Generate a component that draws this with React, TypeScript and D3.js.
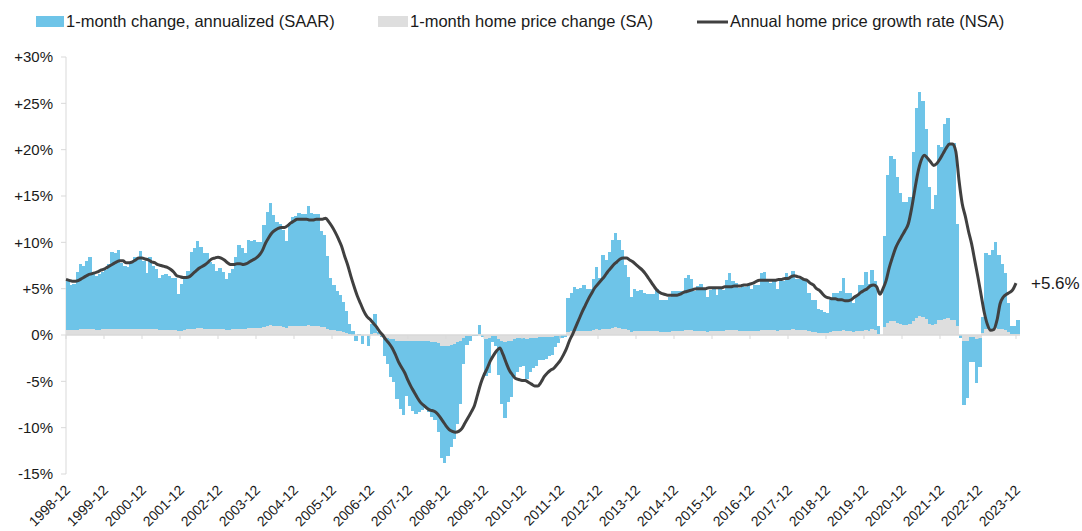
import * as d3 from "d3";
import * as React from "react";

// one tick per year, every December
const tickLabels = [
  "1998-12", "1999-12", "2000-12", "2001-12", "2002-12", "2003-12", "2004-12",
  "2005-12", "2006-12", "2007-12", "2008-12", "2009-12", "2010-12", "2011-12",
  "2012-12", "2013-12", "2014-12", "2015-12", "2016-12", "2017-12", "2018-12",
  "2019-12", "2020-12", "2021-12", "2022-12", "2023-12",
];

// 1-month change, annualized (SAAR), %, monthly from 1998-12
const saar = [
  5.8,
  5.4, 5.5, 6.8, 7.7, 7.4, 8.0, 8.4, 6.8, 6.4, 6.6, 6.8, 7.0, // 1999
  7.7, 9.0, 8.8, 9.2, 7.8, 7.4, 7.3, 7.8, 8.4, 8.4, 9.1, 8.0, // 2000
  6.7, 8.4, 7.4, 7.1, 6.2, 6.5, 6.6, 6.4, 6.2, 6.2, 4.4, 5.5, // 2001
  6.2, 6.9, 9.0, 9.4, 10.1, 9.5, 8.8, 8.8, 7.9, 7.7, 6.9, 7.2, // 2002
  6.8, 6.0, 6.7, 7.1, 8.4, 9.7, 9.4, 8.9, 10.2, 10.1, 10.3, 10.0, // 2003
  10.0, 11.9, 13.3, 14.2, 13.0, 12.2, 12.0, 11.3, 10.1, 12.1, 12.7, 12.8, // 2004
  13.2, 13.1, 13.1, 13.9, 13.2, 13.1, 13.1, 11.2, 10.8, 8.5, 6.2, 5.4, // 2005
  4.8, 4.3, 3.6, 2.6, 1.2, 0.4, -0.7, 0.1, -1.0, 0.0, -1.2, 1.2, // 2006
  2.3, 0.3, -0.2, -2.3, -3.1, -4.5, -5.1, -6.9, -8.0, -8.6, -6.6, -7.7, // 2007
  -8.2, -8.5, -8.3, -8.1, -7.9, -8.3, -8.8, -9.2, -10.5, -13.3, -13.8, -13.1, // 2008
  -12.1, -11.2, -9.6, -7.4, -3.1, -1.1, -0.7, -0.1, -0.1, 1.1, -0.2, -4.4, // 2009
  -4.1, -0.8, -1.2, -4.3, -7.4, -9.0, -7.2, -6.7, -4.4, -4.0, -3.4, -3.3, // 2010
  -4.7, -4.0, -3.6, -3.3, -2.7, -2.7, -2.6, -2.3, -2.2, -1.3, -0.9, -0.3, // 2011
  -0.2, 4.0, 4.5, 5.2, 5.0, 5.1, 5.4, 5.0, 5.0, 6.0, 7.3, 6.1, // 2012
  8.6, 8.1, 9.0, 10.3, 11.0, 10.3, 9.2, 7.6, 6.3, 4.1, 5.0, 4.7, // 2013
  4.9, 4.5, 4.4, 4.4, 4.4, 5.0, 3.8, 3.8, 3.8, 4.1, 4.7, 4.7, // 2014
  4.7, 4.7, 6.1, 6.5, 6.0, 4.8, 5.3, 5.5, 4.9, 4.1, 4.9, 5.0, // 2015
  4.3, 5.0, 4.9, 5.9, 6.7, 5.8, 5.6, 5.1, 5.3, 5.2, 5.5, 5.0, // 2016
  5.4, 5.4, 6.7, 6.8, 6.0, 5.6, 6.0, 5.0, 5.8, 5.8, 6.7, 6.3, // 2017
  6.9, 6.0, 6.0, 6.0, 6.0, 4.5, 3.8, 3.8, 2.8, 2.7, 2.5, 2.4, // 2018
  3.8, 4.5, 4.5, 4.7, 6.1, 4.5, 4.5, 3.5, 4.3, 5.4, 5.4, 6.8, // 2019
  5.5, 7.0, 5.8, 1.0, 0.0, 10.7, 17.3, 19.3, 19.0, 17.1, 15.3, 14.4, // 2020
  14.4, 14.9, 19.8, 24.5, 26.2, 25.2, 22.2, 16.0, 13.6, 15.1, 20.5, 20.3, // 2021
  22.8, 23.4, 20.7, 20.7, 12.0, -0.3, -7.6, -6.8, -2.9, -2.9, -5.2, -3.4, // 2022
  1.9, 8.8, 8.6, 9.2, 10.0, 8.6, 7.7, 6.7, 3.5, 1.0, 1.0, 1.6, // 2023
];

// 1-month home price change (SA), %
const sa = [
  0.5,
  0.5, 0.5, 0.5, 0.6, 0.6, 0.6, 0.6, 0.6, 0.5, 0.5, 0.6, 0.6,
  0.6, 0.7, 0.7, 0.7, 0.6, 0.6, 0.6, 0.6, 0.7, 0.7, 0.7, 0.6,
  0.6, 0.6, 0.6, 0.6, 0.5, 0.5, 0.5, 0.5, 0.5, 0.5, 0.4, 0.4,
  0.5, 0.6, 0.7, 0.7, 0.8, 0.8, 0.7, 0.7, 0.6, 0.6, 0.6, 0.6,
  0.6, 0.5, 0.5, 0.6, 0.7, 0.7, 0.7, 0.7, 0.8, 0.8, 0.8, 0.8,
  0.8, 0.9, 1.0, 1.1, 1.0, 1.0, 1.0, 0.9, 0.8, 1.0, 1.0, 1.0,
  1.0, 1.0, 1.0, 1.1, 1.0, 1.0, 1.0, 0.9, 0.9, 0.7, 0.5, 0.5,
  0.4, 0.4, 0.3, 0.2, 0.1, 0.0, -0.1, 0.0, -0.1, 0.0, -0.1, 0.1,
  0.2, 0.0, 0.0, -0.2, -0.3, -0.4, -0.4, -0.6, -0.7, -0.7, -0.6, -0.6,
  -0.7, -0.7, -0.7, -0.7, -0.7, -0.7, -0.8, -0.8, -0.9, -1.2, -1.2, -1.2,
  -1.1, -1.0, -0.8, -0.6, -0.3, -0.1, -0.1, 0.0, 0.0, 0.1, 0.0, -0.4,
  -0.3, -0.1, -0.1, -0.4, -0.6, -0.8, -0.6, -0.6, -0.4, -0.3, -0.3, -0.3,
  -0.4, -0.3, -0.3, -0.3, -0.2, -0.2, -0.2, -0.2, -0.2, -0.1, -0.1, 0.0,
  0.0, 0.3, 0.4, 0.4, 0.4, 0.4, 0.4, 0.4, 0.4, 0.5, 0.6, 0.5,
  0.7, 0.7, 0.7, 0.8, 0.9, 0.8, 0.7, 0.6, 0.5, 0.3, 0.4, 0.4,
  0.4, 0.4, 0.4, 0.4, 0.4, 0.4, 0.3, 0.3, 0.3, 0.3, 0.4, 0.4,
  0.4, 0.4, 0.5, 0.5, 0.5, 0.4, 0.4, 0.4, 0.4, 0.3, 0.4, 0.4,
  0.4, 0.4, 0.4, 0.5, 0.5, 0.5, 0.5, 0.4, 0.4, 0.4, 0.4, 0.4,
  0.4, 0.4, 0.5, 0.5, 0.5, 0.5, 0.5, 0.4, 0.5, 0.5, 0.5, 0.5,
  0.6, 0.5, 0.5, 0.5, 0.5, 0.4, 0.3, 0.3, 0.2, 0.2, 0.2, 0.2,
  0.3, 0.4, 0.4, 0.4, 0.5, 0.4, 0.4, 0.3, 0.4, 0.4, 0.4, 0.5,
  0.4, 0.6, 0.5, 0.1, 0.0, 0.9, 1.3, 1.5, 1.5, 1.3, 1.2, 1.1,
  1.1, 1.2, 1.5, 1.8, 2.0, 1.9, 1.7, 1.2, 1.1, 1.2, 1.6, 1.6,
  1.7, 1.8, 1.6, 1.6, 1.0, 0.0, -0.6, -0.6, -0.2, -0.2, -0.4, -0.3,
  0.2, 0.7, 0.7, 0.7, 0.8, 0.7, 0.6, 0.5, 0.3, 0.1, 0.1, 0.1,
];

// Annual home price growth rate (NSA), %
const nsa = [
  6.0,
  5.9, 5.8, 5.8, 5.9, 6.1, 6.3, 6.5, 6.6, 6.7, 6.8, 7.0, 7.1,
  7.3, 7.5, 7.7, 7.9, 8.0, 8.0, 7.8, 7.8, 7.9, 8.1, 8.3, 8.3,
  8.2, 8.1, 7.9, 7.8, 7.6, 7.5, 7.4, 7.3, 7.1, 6.8, 6.4, 6.3,
  6.2, 6.2, 6.3, 6.6, 6.9, 7.2, 7.4, 7.6, 7.9, 8.2, 8.3, 8.4,
  8.3, 8.1, 7.8, 7.6, 7.6, 7.7, 7.7, 7.6, 7.7, 7.9, 8.1, 8.3,
  8.6, 9.1, 9.9, 10.5, 11.0, 11.3, 11.5, 11.6, 11.6, 11.8, 12.1, 12.3,
  12.5, 12.5, 12.5, 12.5, 12.4, 12.4, 12.5, 12.5, 12.5, 12.6, 12.2, 11.7,
  11.1, 10.4, 9.6, 8.5, 7.5, 6.3, 5.2, 4.2, 3.4, 2.6, 2.0, 1.7,
  1.3, 0.9, 0.4, 0.0, -0.5, -0.9, -1.4, -2.1, -2.9, -3.5, -4.1, -4.9,
  -5.6, -6.2, -6.8, -7.3, -7.6, -7.9, -8.1, -8.2, -8.4, -8.8, -9.3, -9.8,
  -10.2, -10.4, -10.5, -10.4, -10.1, -9.5, -8.9, -8.3, -7.6, -6.4, -5.2, -4.3,
  -3.6, -2.8, -2.2, -1.7, -1.4, -2.1, -3.0, -3.8, -4.3, -4.7, -4.8, -4.9,
  -4.9, -5.1, -5.3, -5.5, -5.5, -5.1, -4.5, -4.1, -3.8, -3.6, -3.2, -2.8,
  -2.2, -1.5, -0.6, 0.1, 0.9, 1.7, 2.5, 3.2, 3.9, 4.5, 5.1, 5.5,
  5.9, 6.3, 6.8, 7.2, 7.6, 7.9, 8.2, 8.3, 8.3, 8.1, 7.9, 7.6,
  7.3, 7.0, 6.6, 6.1, 5.6, 5.1, 4.7, 4.5, 4.4, 4.3, 4.3, 4.3,
  4.3, 4.4, 4.6, 4.7, 4.8, 4.9, 5.0, 5.0, 5.0, 5.0, 5.1, 5.1,
  5.1, 5.1, 5.1, 5.2, 5.2, 5.2, 5.3, 5.3, 5.3, 5.4, 5.4, 5.5,
  5.6, 5.8, 5.9, 5.9, 5.9, 5.9, 5.9, 5.9, 6.0, 6.0, 6.1, 6.1,
  6.3, 6.4, 6.3, 6.2, 6.0, 5.9, 5.6, 5.4, 5.0, 4.8, 4.4, 4.1,
  4.0, 3.9, 3.9, 3.8, 3.8, 3.7, 3.7, 3.8, 4.1, 4.3, 4.6, 4.8,
  5.0, 5.3, 5.4, 5.2, 4.4, 5.0, 5.9, 7.3, 8.4, 9.4, 10.1, 10.7,
  11.3, 12.0, 13.6, 15.6, 17.5, 18.8, 19.4, 19.1, 18.7, 18.3, 18.5, 19.0,
  19.6, 20.2, 20.6, 20.6, 19.8, 16.7, 14.2, 12.8, 11.2, 9.8, 8.0, 6.2,
  4.3, 2.4, 1.1, 0.5, 0.6, 1.6, 3.4, 4.1, 4.4, 4.6, 4.9, 5.6,
];

const yTicks = [-15, -10, -5, 0, 5, 10, 15, 20, 25, 30];

const BLUE = "#6ec4e8";
const GREY = "#dedede";
const LINE = "#404040";
const AXIS = "#d9d9d9";
const FONT = "Arial, 'Liberation Sans', sans-serif";

export default function App() {
  const width = 1082,
    height = 531;

  const x = d3.scaleLinear().domain([0, saar.length - 1]).range([66, 1016]);
  const y = d3.scaleLinear().domain([-15, 30]).range([474, 57]);
  const step = x(1) - x(0);
  const y0 = y(0);

  const line = d3
    .line<number>()
    .x((d, i) => x(i))
    .y((d) => y(d))
    .curve(d3.curveMonotoneX);

  const fmt = (v: number) => (v > 0 ? "+" + v + "%" : v + "%");
  const last = nsa[nsa.length - 1];

  return (
    <svg
      width={width}
      height={height}
      style={{ position: "absolute", left: 0, top: 0, background: "#fff" }}
      fontFamily={FONT}
    >
      {/* legend */}
      <g>
        <rect x={36} y={16} width={28} height={11} fill={BLUE} />
        <text x={66} y={27} fontSize={16.5} fill="#1a1a1a">
          1-month change, annualized (SAAR)
        </text>
        <rect x={378} y={16} width={30} height={11} fill={GREY} />
        <text x={410} y={27} fontSize={16.5} fill="#1a1a1a">
          1-month home price change (SA)
        </text>
        <line x1={697} x2={728} y1={22} y2={22} stroke={LINE} strokeWidth={3} />
        <text x={730} y={27} fontSize={16.5} fill="#1a1a1a">
          Annual home price growth rate (NSA)
        </text>
      </g>

      {/* y axis */}
      <line x1={66} x2={66} y1={y(30)} y2={y(-15)} stroke={AXIS} />
      {yTicks.map((t) => (
        <g key={t}>
          <line x1={61} x2={66} y1={y(t)} y2={y(t)} stroke={AXIS} />
          <text
            x={53}
            y={y(t)}
            dy="0.35em"
            textAnchor="end"
            fontSize={15}
            fill="#1a1a1a"
          >
            {fmt(t)}
          </text>
        </g>
      ))}

      {/* bars */}
      <g shapeRendering="crispEdges">
        {saar.map((v, i) => (
          <rect
            key={"b" + i}
            x={x(i)}
            width={step + 0.4}
            y={Math.min(y(v), y0)}
            height={Math.abs(y(v) - y0)}
            fill={BLUE}
          />
        ))}
        {sa.map((v, i) => (
          <rect
            key={"g" + i}
            x={x(i)}
            width={step + 0.4}
            y={Math.min(y(v), y0)}
            height={Math.abs(y(v) - y0)}
            fill={GREY}
          />
        ))}
      </g>

      {/* x axis */}
      <line x1={66} x2={1020} y1={y0} y2={y0} stroke={AXIS} strokeWidth={1.5} />
      {tickLabels.map((lab, k) => {
        const tx = x(k * 12);
        return (
          <g key={lab}>
            <line x1={tx} x2={tx} y1={y0} y2={y0 + 4} stroke={AXIS} />
            <text
              transform={`translate(${tx + 5},${491}) rotate(-45)`}
              textAnchor="end"
              fontSize={14}
              fill="#1a1a1a"
            >
              {lab}
            </text>
          </g>
        );
      })}

      {/* annual growth line */}
      <path d={line(nsa) || ""} fill="none" stroke={LINE} strokeWidth={3} strokeLinejoin="round" />

      <text x={1031} y={y(last)} dy="0.35em" fontSize={17} fill="#1a1a1a">
        {"+" + last.toFixed(1) + "%"}
      </text>
    </svg>
  );
}
